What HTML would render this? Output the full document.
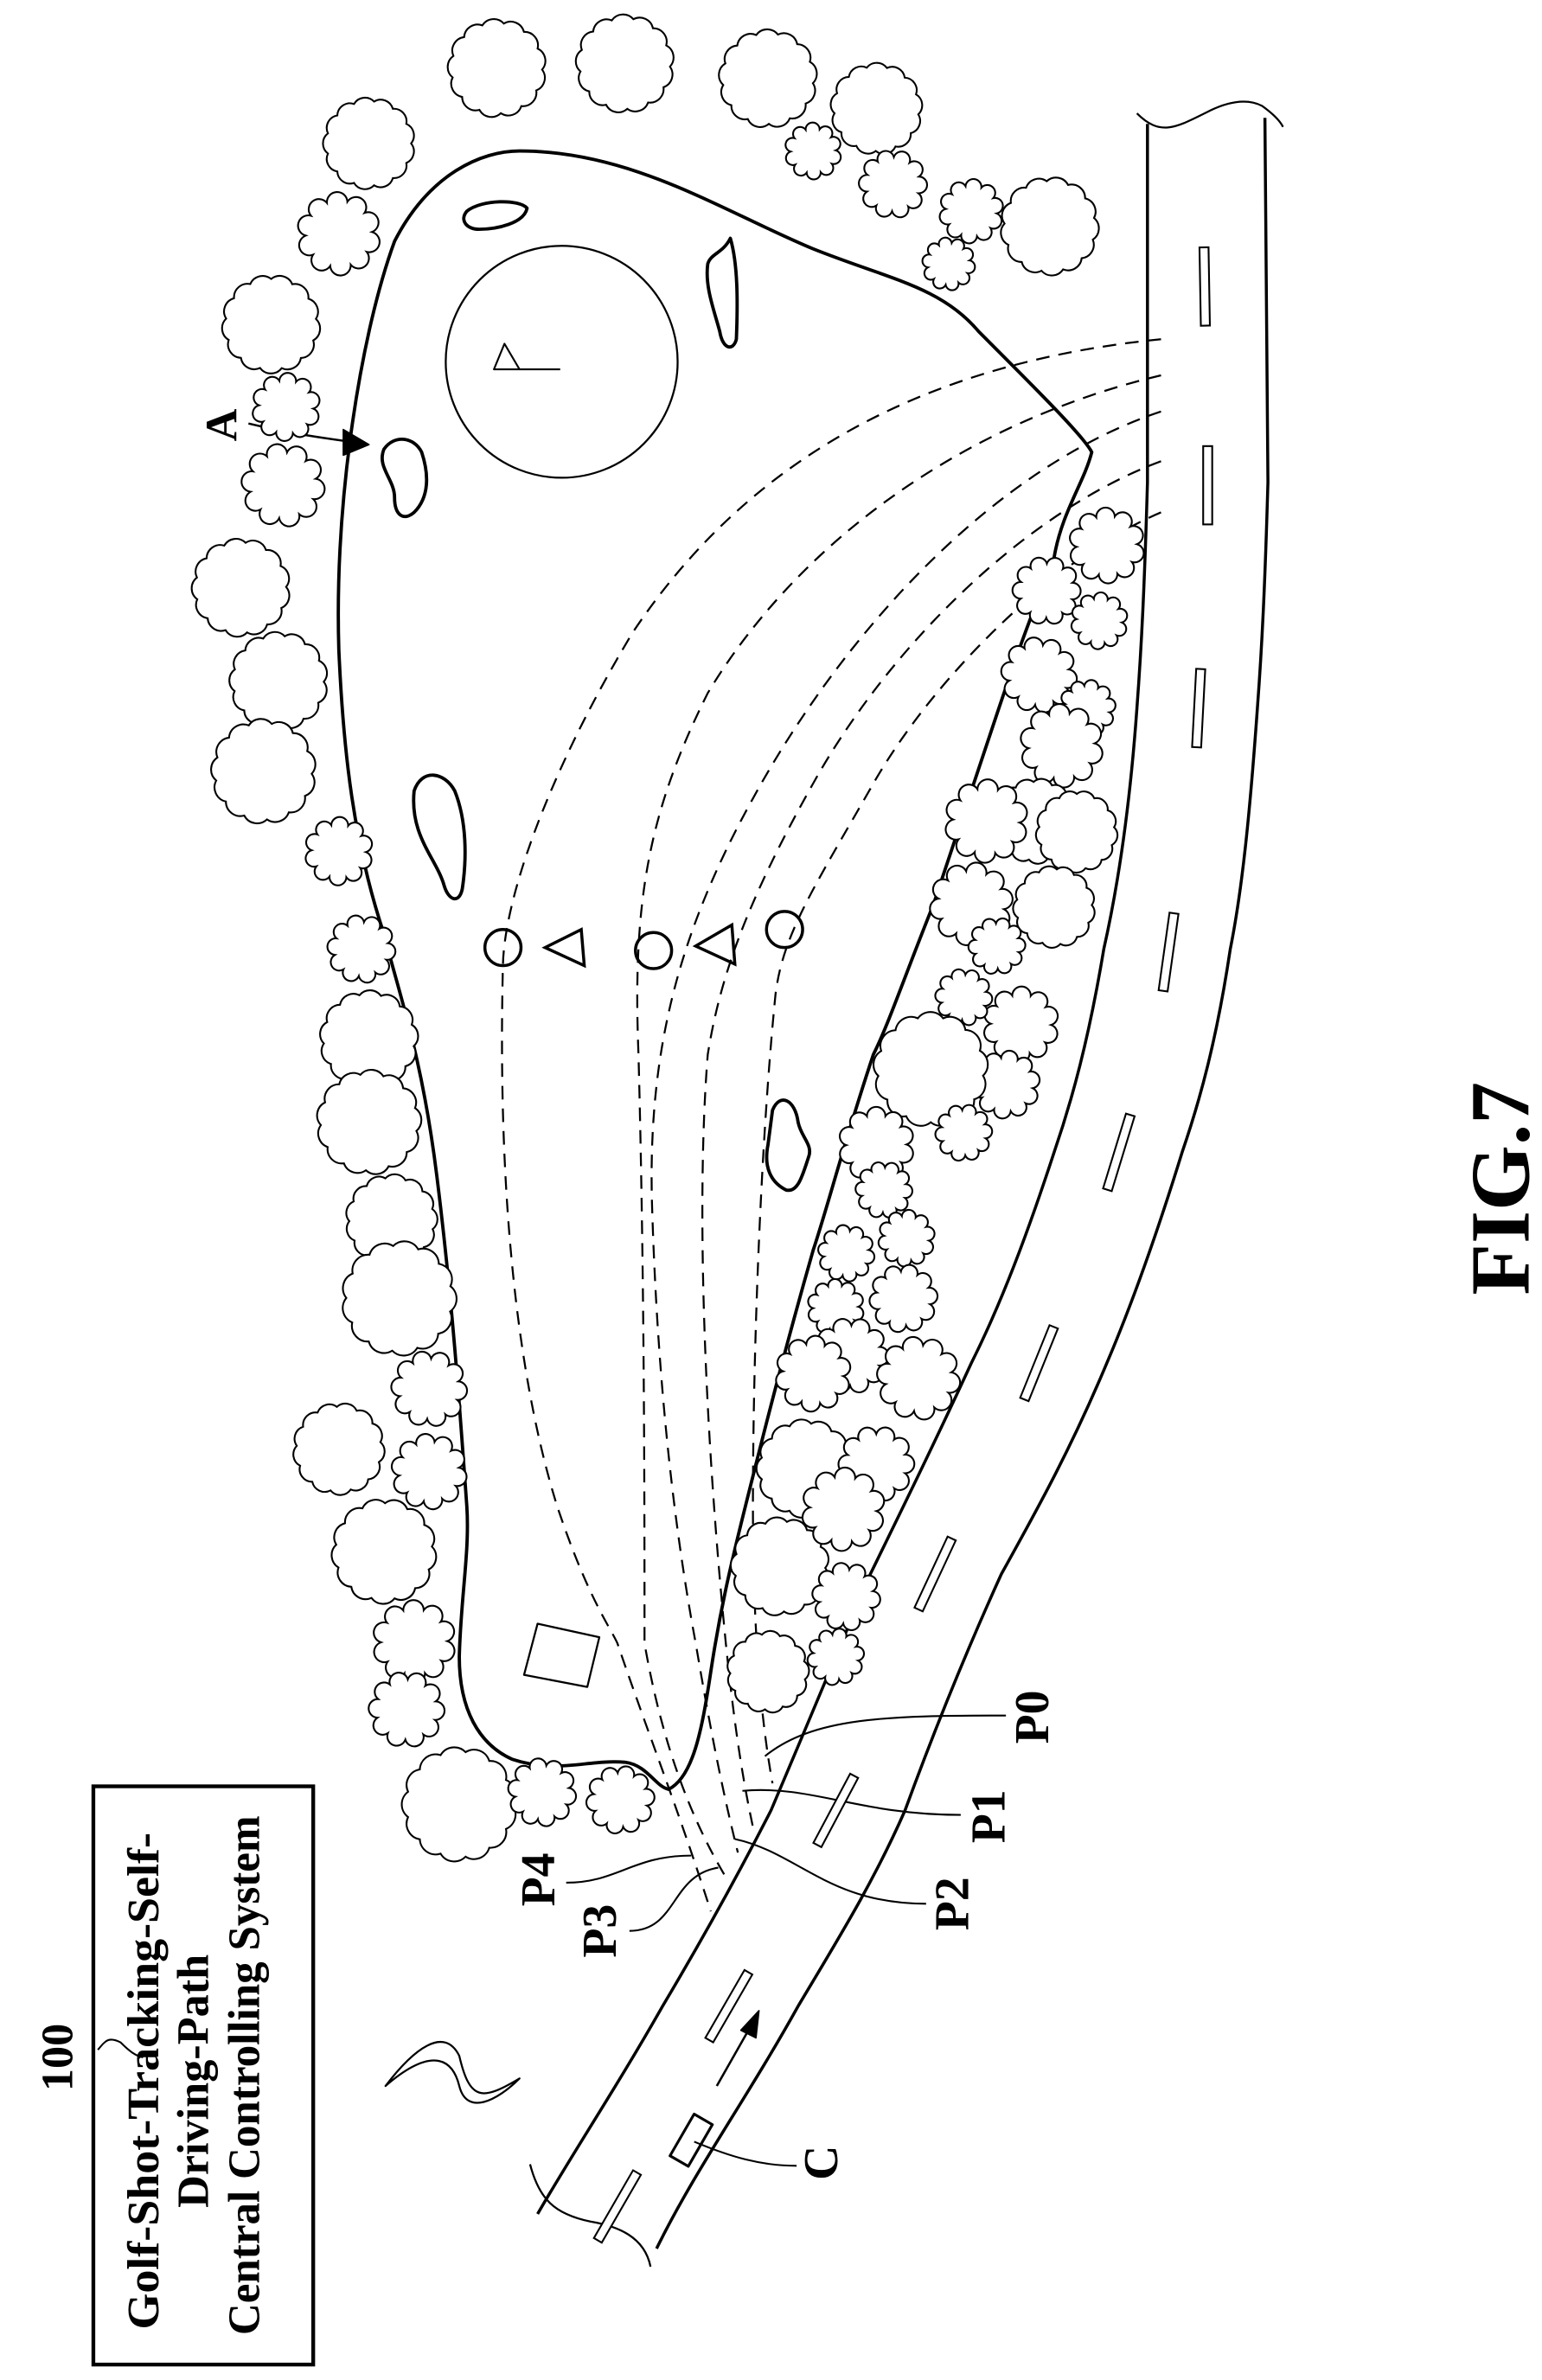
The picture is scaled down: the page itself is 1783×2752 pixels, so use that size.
<!DOCTYPE html>
<html><head><meta charset="utf-8"><style>
html,body{margin:0;padding:0;background:#fff;}
svg{display:block;}
text{font-family:"Liberation Serif",serif;fill:#000;font-weight:bold;}
</style></head>
<body>
<svg width="1783" height="2752" viewBox="0 0 1024 1580" xmlns="http://www.w3.org/2000/svg">
<g fill="none" stroke="#000" stroke-linejoin="round">
<path stroke-width="2.2" d="M225,431 C222,330 240,220 262,160 C285,115 320,100 345,100 C420,100 480,140 540,165 C590,185 625,190 650,220 C690,260 720,290 725,300 C720,320 705,340 700,370 C680,420 670,450 660,480 C640,540 630,570 620,600 C600,650 590,680 580,700 C560,760 550,800 540,830 C520,900 505,960 495,1000 C485,1040 478,1070 472,1110 C466,1150 460,1180 444,1188 C435,1186 430,1172 415,1170 C390,1168 370,1178 340,1168 C318,1158 305,1135 305,1100 C306,1060 312,1030 310,1000 C305,930 300,860 290,780 C280,700 265,660 255,620 C235,560 228,500 225,431 Z"/>
<circle cx="373" cy="240" r="77" stroke-width="1.3"/>
<path stroke-width="1.2" d="M345,245 L335,228 L328,245 Z M345,245 L372,245"/>
<path stroke-width="2.2" d="M310,140 C320,132 345,132 350,138 C348,148 330,152 318,152 C310,152 305,146 310,140 Z"/>
<path stroke-width="2.2" d="M485,158 C490,175 490,200 489,225 C487,233 480,232 478,220 C474,205 468,190 470,175 C472,168 480,168 485,158 Z"/>
<path stroke-width="2.2" d="M255,298 C262,288 275,290 280,300 C285,315 285,330 275,340 C268,346 262,342 262,330 C262,318 250,310 255,298 Z"/>
<path stroke-width="2.2" d="M275,525 C280,510 295,512 302,525 C310,545 310,570 307,590 C305,600 298,598 295,588 C290,570 272,555 275,525 Z"/>
<path stroke-width="2.2" d="M513,737 C518,725 528,730 530,745 C532,755 540,760 537,768 C533,780 530,792 522,790 C512,785 507,775 510,760 Z"/>
<path stroke-width="1.3" d="M357,1078 L398,1087 L390,1120 L348,1112 Z"/>
<path stroke-width="2" d="M762,82 C762,200 762,280 762,320 C760,390 758,430 755,470 C750,540 742,590 733,630 C723,690 712,730 700,765 C682,820 665,865 645,905 C622,955 600,1000 578,1045 C555,1100 534,1150 512,1202 C490,1245 465,1290 440,1332 C410,1385 380,1430 357,1470"/>
<path stroke-width="2" d="M840,78 C841,200 842,280 842,320 C840,390 838,430 835,470 C830,540 825,590 817,630 C808,690 797,730 785,765 C768,820 752,865 735,905 C712,960 690,1000 665,1045 C640,1100 620,1150 601,1202 C580,1250 555,1290 530,1332 C495,1395 462,1440 436,1493"/>
<path stroke-width="1.3" d="M755,75 C770,90 780,85 800,75 C815,67 828,65 838,70 C845,75 850,80 852,84"/>
<path stroke-width="1.3" d="M352,1437 C358,1460 368,1470 392,1475 C410,1478 428,1485 432,1505"/>
<path stroke-width="1.3" d="M256,1385 C275,1360 295,1345 305,1365 C312,1395 320,1395 345,1380 C330,1395 310,1405 305,1385 C300,1365 285,1360 256,1385 Z"/>
<path stroke-width="1.2" d="M65,1361 C70,1355 72,1352 80,1356 C86,1362 90,1365 95,1366"/>
<path stroke-width="1.5" d="M476,1385 L497,1348"/>
<path fill="#000" d="M504,1335 L492,1348 L502,1353 Z"/>
<rect stroke-width="1.8" x="-7" y="-16" width="14" height="32" transform="translate(459,1421) rotate(30)"/>
<path stroke-width="1.2" d="M461,1422 C485,1432 505,1438 529,1438"/>
<path stroke-width="1.4" d="M165,281 C190,287 210,290 232,293"/>
<path fill="#000" d="M245,295 L228,285 L228,302 Z"/>
<path stroke-width="1.2" d="M508,1166 C540,1140 590,1139 668,1139"/>
<path stroke-width="1.2" d="M493,1189 C540,1185 570,1205 638,1205"/>
<path stroke-width="1.2" d="M488,1221 C530,1230 550,1264 615,1264"/>
<path stroke-width="1.2" d="M459,1232 C420,1232 410,1250 376,1250"/>
<path stroke-width="1.2" d="M477,1240 C445,1245 450,1282 418,1282"/>
</g>
<g id="dashes" fill="#fff" stroke="#000" stroke-width="1.2"></g>
<g id="shots" fill="none" stroke="#000" stroke-width="1.3" stroke-dasharray="9,6"></g>
<g id="trees" fill="#fff" stroke="#000" stroke-width="1.2"></g>
<g fill="none" stroke="#000" stroke-width="2">
<circle cx="334" cy="629" r="12"/>
<circle cx="434" cy="631" r="12"/>
<circle cx="521" cy="617" r="12"/>
<path d="M362,629 L386,617 L388,641 Z"/>
<path d="M462,628 L486,614 L488,640 Z"/>
</g>
<text font-size="56" text-anchor="middle" transform="translate(1015,789) rotate(-90)">FIG.7</text>
<rect x="62" y="1186" width="146" height="384" fill="none" stroke="#000" stroke-width="2.5"/>
<text font-size="30" text-anchor="middle" transform="translate(105,1378) rotate(-90)">
<tspan x="0" y="0" textLength="330" lengthAdjust="spacingAndGlyphs">Golf-Shot-Tracking-Self-</tspan>
<tspan x="0" y="33">Driving-Path</tspan>
<tspan x="0" y="67" textLength="345" lengthAdjust="spacingAndGlyphs">Central Controlling System</tspan>
</text>
<text font-size="30" text-anchor="middle" transform="translate(48,1366) rotate(-90)">100</text>
<text font-size="30" text-anchor="middle" transform="translate(157,282) rotate(-90)">A</text>
<text font-size="32" text-anchor="middle" transform="translate(696,1140) rotate(-90)">P0</text>
<text font-size="32" text-anchor="middle" transform="translate(667,1206) rotate(-90)">P1</text>
<text font-size="32" text-anchor="middle" transform="translate(643,1264) rotate(-90)">P2</text>
<text font-size="32" text-anchor="middle" transform="translate(409,1282) rotate(-90)">P3</text>
<text font-size="32" text-anchor="middle" transform="translate(368,1248) rotate(-90)">P4</text>
<text font-size="32" text-anchor="middle" transform="translate(556,1436) rotate(-90)">C</text>
</svg>
<script>
var NS='http://www.w3.org/2000/svg';
var treeList=[[245,95,28],[330,45,30],[415,42,30],[510,52,30],[582,72,28],[540,100,15],[593,122,18],[645,140,17],[630,175,14],[697,150,30],[225,155,22],[180,215,30],[190,270,18],[188,322,22],[160,390,30],[185,452,30],[175,512,32],[225,565,18],[240,630,18],[245,690,30],[245,745,32],[260,810,28],[265,862,35],[285,922,20],[225,962,28],[285,977,20],[255,1030,32],[275,1090,22],[270,1135,20],[305,1198,35],[360,1190,18],[412,1195,18],
[735,362,20],[695,392,18],[730,412,15],[690,448,20],[722,470,15],[705,495,22],[688,545,26],[655,545,22],[715,552,25],[645,600,22],[700,602,25],[662,628,15],[678,680,20],[640,662,15],[668,720,18],[618,710,35],[640,752,15],[582,760,20],[587,790,15],[602,822,15],[562,832,15],[600,862,18],[555,868,15],[565,900,20],[540,912,20],[610,915,22],[535,975,30],[518,1040,30],[582,972,20],[560,1002,22],[562,1060,18],[555,1100,15],[510,1110,25]];
var tg=document.getElementById('trees');
treeList.forEach(function(t,i){
  var cx=t[0],cy=t[1],r=t[2],n=r>24?13:10,d='';
  for(var k=0;k<=n;k++){var a=k/n*2*Math.PI+i;var x=cx+r*Math.cos(a),y=cy+r*Math.sin(a);
    if(k==0)d='M'+x.toFixed(1)+','+y.toFixed(1);else d+=' A'+(r*0.3).toFixed(1)+','+(r*0.3).toFixed(1)+' 0 0 1 '+x.toFixed(1)+','+y.toFixed(1);}
  var p=document.createElementNS(NS,'path');p.setAttribute('d',d+'Z');
  
  
  tg.appendChild(p);
});
var shotPaths=[
'M771,225 C620,240 500,300 420,420 C360,520 335,600 334,640 C330,800 345,920 370,1000 C390,1060 405,1080 410,1091 C430,1150 450,1200 472,1269',
'M771,249 C640,280 530,360 470,460 C430,540 420,600 424,700 C428,850 428,1000 428,1091 C440,1160 460,1210 483,1248',
'M771,273 C660,310 560,420 500,530 C450,620 430,700 433,800 C436,900 445,1000 462,1091 C472,1150 480,1190 490,1230',
'M771,306 C680,340 590,430 540,520 C495,600 478,650 470,700 C462,800 468,950 482,1091 C488,1150 494,1185 500,1213',
'M771,340 C700,370 620,450 580,520 C540,590 520,620 515,660 C505,760 500,900 500,1000 C500,1080 505,1140 513,1184'];
var sg=document.getElementById('shots');
shotPaths.forEach(function(d){var p=document.createElementNS(NS,'path');p.setAttribute('d',d);
  
  
  sg.appendChild(p);});
var dashList=[[800,190,-1],[802,322,0],[796,470,3],[776,632,8],[743,765,17],[690,905,22],[621,1045,25],[555,1202,28],[484,1332,30],[410,1465,30]];
var dg=document.getElementById('dashes');
dashList.forEach(function(t){var r=document.createElementNS(NS,'rect');
  r.setAttribute('x',-3);r.setAttribute('y',-26);r.setAttribute('width',6);r.setAttribute('height',52);
  r.setAttribute('transform','translate('+t[0]+','+t[1]+') rotate('+t[2]+')');
  
  
  dg.appendChild(r);});
</script>
</body></html>
